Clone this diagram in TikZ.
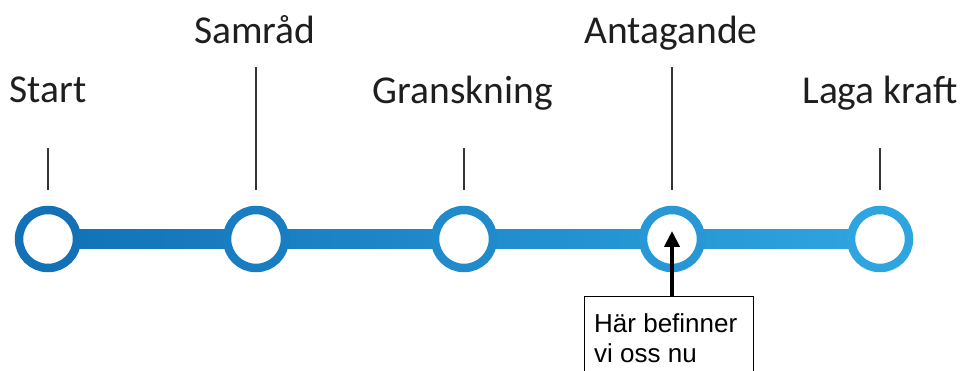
\documentclass[tikz,border=0pt]{standalone}
\usepackage{fontspec}
\newfontfamily\calib{Carlito}
\newfontfamily\arialf{Liberation Sans}
\usetikzlibrary{calc,arrows.meta}
\definecolor{cA}{RGB}{18,113,183}
\definecolor{cB}{RGB}{25,126,193}
\definecolor{cC}{RGB}{32,139,203}
\definecolor{cD}{RGB}{39,152,213}
\definecolor{cE}{RGB}{46,165,223}
\definecolor{txt}{RGB}{30,30,30}
\tikzset{
  stage/.style={circle, draw=#1, line width=8.5pt, fill=white, minimum size=58pt, inner sep=0pt},
  lbl/.style={anchor=base, font=\calib\fontsize{39.5}{42}\selectfont, text=txt, inner sep=0pt},
  tick/.style={draw=txt!90, line width=1.4pt},
  infobox/.style={draw=black, line width=1.3pt, fill=white, anchor=north west, minimum width=169pt, minimum height=110pt, inner sep=0pt},
  infotxt/.style={anchor=base west, align=left, inner sep=0pt, font=\arialf\fontsize{26}{30}\selectfont},
  pointer/.style={draw=black, line width=4pt, -{Triangle[length=16pt,width=15pt]}}
}
\begin{document}
\begin{tikzpicture}[x=1pt,y=-1pt]
\useasboundingbox (0,0) rectangle (961,371);
\begin{scope}
\clip (0,0) rectangle (961,371);
% bar
\coordinate (p1) at (48,239);
\coordinate (p5) at (880,239);
\shade[left color=cA, right color=cE] ($(p1)+(0,-9.5)$) rectangle ($(p5)+(0,9.5)$);
% stages
\node[stage=cA] (c1) at (48,239) {};
\node[stage=cB] (c2) at (256,239) {};
\node[stage=cC] (c3) at (464,239) {};
\node[stage=cD] (c4) at (672,239) {};
\node[stage=cE] (c5) at (880,239) {};
% ticks
\coordinate (t1a) at (48,148);  \coordinate (t1b) at (48,190);
\coordinate (t2a) at (256,67);  \coordinate (t2b) at (256,190);
\coordinate (t3a) at (464,148); \coordinate (t3b) at (464,190);
\coordinate (t4a) at (672,67);  \coordinate (t4b) at (672,190);
\coordinate (t5a) at (880,148); \coordinate (t5b) at (880,190);
\draw[tick] (t1a) -- (t1b);
\draw[tick] (t2a) -- (t2b);
\draw[tick] (t3a) -- (t3b);
\draw[tick] (t4a) -- (t4b);
\draw[tick] (t5a) -- (t5b);
% labels
\node[lbl] (l1) at (48,103) {Start};
\node[lbl] (l2) at (255,44) {Samråd};
\node[lbl] (l3) at (463,104) {Granskning};
\node[lbl] (l4) at (671,44) {Antagande};
\node[lbl] (l5) at (880,104) {Laga kraft};
% info box
\node[infobox] (box) at (584,296) {};
\node[infotxt] (boxtxt) at (594,362) {Här befinner\\vi oss nu};
\coordinate (tip) at (672,231);
\draw[pointer] (box.north -| tip) -- (tip);
\end{scope}
\end{tikzpicture}
\end{document}
